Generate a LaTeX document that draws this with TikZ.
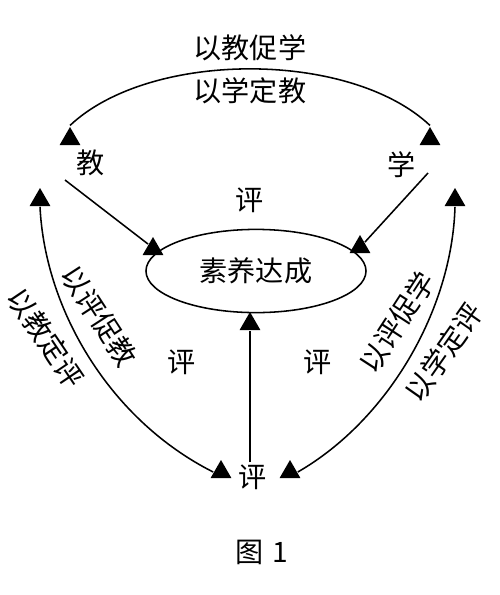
\documentclass[tikz,border=0pt]{standalone}
\usepackage{fontspec}
\setmainfont{Noto Sans CJK SC}
\usetikzlibrary{shapes.geometric}

\begin{document}
\begin{tikzpicture}[
      x=0.025cm, y=-0.025cm, line width=1.1pt,
      txt/.style={inner sep=1pt, font=\fontsize{20}{23}\selectfont},
      tri/.style={regular polygon, regular polygon sides=3, fill=black,
                  minimum size=0.6cm, inner sep=0pt},
      goal/.style={ellipse, draw, minimum width=5.5cm, minimum height=2.08cm,
                   inner sep=0pt, font=\fontsize{20}{23}\selectfont}]
    \useasboundingbox (0,0) rectangle (500,595);
    % nodes (pixel grid of the reference)
    \node[goal] (goal) at (256,271) {素养达成};
    \node[txt] (jiao) at (91,163) {教};
    \node[txt] (xue)  at (402,165) {学};
    \node[txt] (ping) at (253,477) {评};
    \node[txt] at (250,200) {评};
    \node[txt] at (182,362) {评};
    \node[txt] at (318,362) {评};
    % arrow heads
    \node[tri] (tjl) at (70,139) {};
    \node[tri] (tjr) at (430,139) {};
    \node[tri] (tpl) at (40,200) {};
    \node[tri] (tpr) at (455,200) {};
    \node[tri] (tbl) at (221,472) {};
    \node[tri] (tbr) at (290,472) {};
    \node[tri] (tgl) at (153,249) {};
    \node[tri] (tgr) at (360,247) {};
    \node[tri] (tgb) at (250,324) {};
    \coordinate (jl) at (65,180);
    \coordinate (xr) at (428,173);
    % arcs between teaching, learning and evaluation
    \draw (tjl.north) .. controls (150,50) and (350,50) .. (tjr.north);
    \draw (tpl.south) .. controls (45,310) and (110,420) .. (tbl.west);
    \draw (tpr.south) .. controls (452,310) and (388,420) .. (tbr.east);
    % arrows into the goal
    \draw (jl) -- (tgl.north west);
    \draw (xr) -- (tgr.north east);
    \draw (tgb.south |- ping.north) -- (tgb.south);
    % arc labels
    \node[txt] at (250,48) {以教促学};
    \node[txt] at (250,91) {以学定教};
    \node[txt, rotate=-57] at (99,316) {以评促教};
    \node[txt, rotate=-56] at (46,338) {以教定评};
    \node[txt, rotate=57] at (397,322) {以评促学};
    \node[txt, rotate=55] at (444,352) {以学定评};
    % caption
    \node[txt] (cap) at (262,552) {图\hspace{0.3em}1};
\end{tikzpicture}
\end{document}
